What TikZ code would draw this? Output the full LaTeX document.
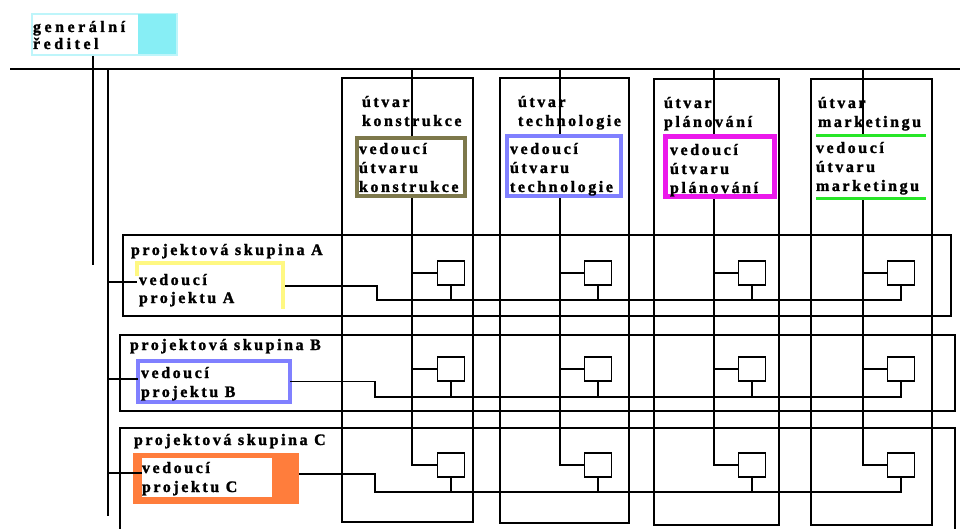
\documentclass[tikz,border=0pt]{standalone}
\usepackage{fontspec}
\setmainfont{Liberation Serif}
\newfontfamily\lblfont[LetterSpace=16, BoldFeatures={FakeBold=1.5}]{Liberation Serif}
\newfontfamily\dirfont[LetterSpace=22, BoldFeatures={FakeBold=1.5}]{Liberation Serif}
\newcommand\fstrut{\rule{0pt}{16pt}}
\definecolor{olivebox}{RGB}{125,120,75}
\definecolor{bluebox}{RGB}{128,128,255}
\definecolor{magbox}{RGB}{235,25,235}
\definecolor{greenln}{RGB}{40,230,40}
\definecolor{yelbox}{RGB}{255,248,130}
\definecolor{orabox}{RGB}{255,125,60}
\definecolor{cyanfill}{RGB}{135,238,245}
\definecolor{cyanbd}{RGB}{190,245,250}
\begin{document}
\begin{tikzpicture}[x=1pt,y=-1pt,
  colbox/.style={draw, line width=1.2pt, anchor=north west, inner sep=0pt, outer sep=0pt},
  grpbox/.style={draw, line width=1.2pt, anchor=north west, inner sep=0pt, outer sep=0pt},
  sbox/.style={draw, line width=1.7pt, fill=white, minimum width=27pt, minimum height=24pt, inner sep=0pt, outer sep=0pt},
  mgr/.style={draw, fill=white, inner sep=0pt, outer sep=0pt},
  lbl/.style={font=\lblfont\bfseries\fontsize{16}{19}\selectfont, anchor=north west, inner sep=0pt, outer sep=0pt, align=left},
  cline/.style={line width=1.4pt},
  pline/.style={line width=1.2pt}
]
\useasboundingbox (0,0) rectangle (960,529);
\fill[white] (0,0) rectangle (960,529);

% department columns
\node[colbox, minimum width=131pt, minimum height=444pt] (colK) at (342,78) {};
\node[colbox, minimum width=129pt, minimum height=445pt] (colT) at (500,78) {};
\node[colbox, minimum width=125pt, minimum height=446pt] (colP) at (654,79) {};
\node[colbox, minimum width=121pt, minimum height=446pt] (colM) at (811,79) {};

% project groups
\node[grpbox, minimum width=828pt, minimum height=81pt] (gA) at (123,235) {};
\draw[line width=2.5pt] (gA.north east) -- (gA.south east);
\node[grpbox, minimum width=835pt, minimum height=76pt] (gB) at (120,335) {};
\node[grpbox, minimum width=835pt, minimum height=110pt] (gC) at (120,428) {};

% top line
\coordinate (hl0) at (10,69);
\coordinate (hl1) at (960,69);
\draw[line width=2pt] (hl0) -- (hl1);

% director
\node[draw=cyanbd, line width=2pt, minimum width=145pt, minimum height=41pt, anchor=north west, inner sep=0pt] (dir) at (31,13) {};
\fill[cyanfill] (138,14) rectangle (176,54);
\node[lbl, font=\dirfont\bfseries\fontsize{16}{17}\selectfont] (dirt) at (33,16) {\fstrut generální\\ředitel};

% bus lines
\coordinate (b1top) at (93,56);
\coordinate (b1bot) at (93,265);
\draw[line width=1.4pt] (b1top) -- (b1bot);
\coordinate (b2top) at (108,69);
\coordinate (b2bot) at (108,516);
\draw[line width=2pt] (b2top) -- (b2bot);

% small boxes
\foreach \c/\x in {1/451,2/598,3/752,4/901} {
  \node[sbox] (A\c) at (\x,273) {};
  \node[sbox] (B\c) at (\x,369) {};
  \node[sbox] (C\c) at (\x,465) {};
}

% department centre lines
\foreach \c/\x in {1/412,2/560,3/714,4/863} {
  \coordinate (top\c) at (\x,69);
  \draw[cline] (top\c) |- (C\c.west);
  \draw[cline] (top\c |- A\c.west) -- (A\c.west);
  \draw[cline] (top\c |- B\c.west) -- (B\c.west);
}

% department managers
\node[mgr, draw=olivebox, line width=4pt, minimum width=108pt, minimum height=58pt] (mK) at (411,167) {};
\node[mgr, draw=bluebox, line width=4pt, minimum width=114pt, minimum height=60pt] (mT) at (564,166) {};
\node[mgr, draw=magbox, line width=5pt, minimum width=109pt, minimum height=60pt] (mP) at (720,166.5) {};
\node[fill=white, inner sep=0pt, outer sep=0pt, minimum width=110pt, minimum height=63pt] (mM) at (871,167.5) {};
\draw[greenln, line width=3pt] (mM.north west) -- (mM.north east);
\draw[greenln, line width=3pt] (mM.south west) -- (mM.south east);

% department texts
\node[lbl] (tK) at (362,91) {\fstrut útvar\\konstrukce};
\node[lbl] (tT) at (518,91) {\fstrut útvar\\technologie};
\node[lbl] (tP) at (664,92) {\fstrut útvar\\plánování};
\node[lbl] (tM) at (818,92) {\fstrut útvar\\marketingu};
\node[lbl] (mKt) at (359,138) {\fstrut vedoucí\\útvaru\\konstrukce};
\node[lbl] (mTt) at (510,138) {\fstrut vedoucí\\útvaru\\technologie};
\node[lbl] (mPt) at (670,139) {\fstrut vedoucí\\útvaru\\plánování};
\node[lbl] (mMt) at (816,137) {\fstrut vedoucí\\útvaru\\marketingu};

% project managers
\node[inner sep=0pt, outer sep=0pt, minimum width=148pt, minimum height=46pt] (pmA) at (211,286) {};
\draw[yelbox, line width=4pt] (137,276) -- (137,263) -- (283,263) -- (283,309);
\node[mgr, draw=bluebox, line width=4pt, minimum width=152pt, minimum height=41pt] (pmB) at (214,381.5) {};
\node[fill=orabox, inner sep=0pt, outer sep=0pt, minimum width=166pt, minimum height=51pt] (pmC) at (216,478.5) {};
\node[fill=white, inner sep=0pt, outer sep=0pt, minimum width=130pt, minimum height=39pt] (pmCi) at (207,477.5) {};

% group and manager texts
\node[lbl] (gAt) at (131,239) {\fstrut projektová skupina A};
\node[lbl] (gBt) at (130,334) {\fstrut projektová skupina B};
\node[lbl] (gCt) at (134,429) {\fstrut projektová skupina C};
\node[lbl, font=\lblfont\bfseries\fontsize{16}{18}\selectfont] (pmAt) at (139,269) {\fstrut vedoucí\\projektu A};
\node[lbl] (pmBt) at (141,362) {\fstrut vedoucí\\projektu B};
\node[lbl] (pmCt) at (142,457) {\fstrut vedoucí\\projektu C};

% bus to project managers
\coordinate (sA) at (108,282);
\coordinate (sB) at (108,379);
\coordinate (sC) at (108,473);
\draw[pline] (sA) -- (sA -| pmA.west);
\draw[pline] (sB) -- (sB -| pmB.west);
\draw[pline] (sC) -- (sC -| pmCi.west);

% project lines
\coordinate (jA) at (377,300);
\coordinate (jB) at (375,397);
\coordinate (jC) at (375,492);
\draw[pline] (pmA.east) -- (pmA.east -| jA) -- (jA) -- (jA -| A4.south) -- (A4.south);
\draw[pline] (pmB.east) -- (pmB.east -| jB) -- (jB) -- (jB -| B4.south) -- (B4.south);
\draw[pline] ([yshift=4.5pt]pmC.east) -- ([yshift=4.5pt]pmC.east -| jC) -- (jC) -- (jC -| C4.south) -- (C4.south);
\foreach \c in {1,2,3} {
  \draw[pline] (A\c.south) -- (A\c.south |- jA);
  \draw[pline] (B\c.south) -- (B\c.south |- jB);
  \draw[pline] (C\c.south) -- (C\c.south |- jC);
}
\end{tikzpicture}
\end{document}
